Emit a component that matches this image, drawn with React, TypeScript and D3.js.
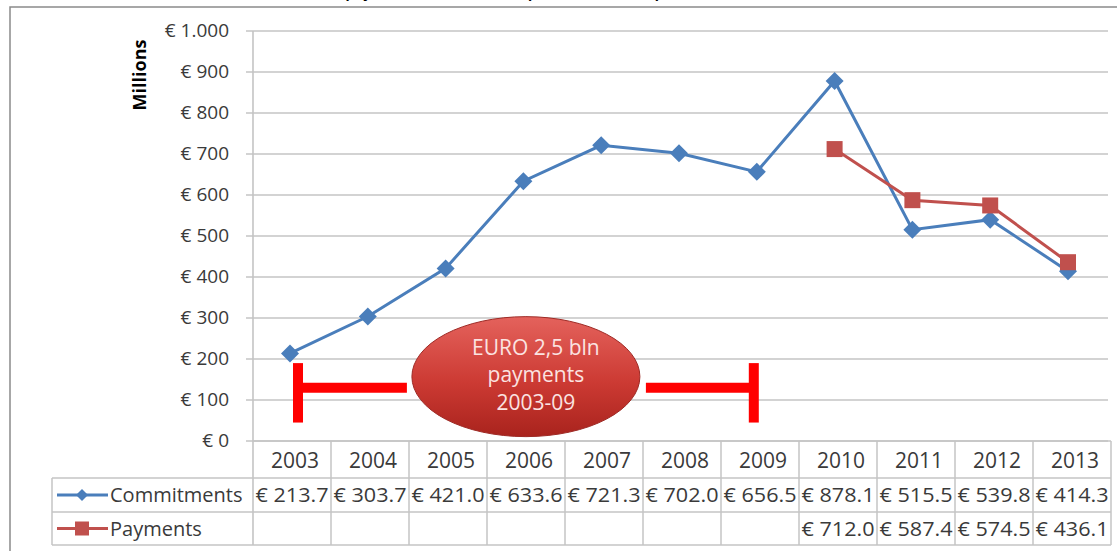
import React from "react";
import * as d3 from "d3";

const years = ["2003", "2004", "2005", "2006", "2007", "2008", "2009", "2010", "2011", "2012", "2013"];
const commitments = [213.7, 303.7, 421.0, 633.6, 721.3, 702.0, 656.5, 878.1, 515.5, 539.8, 414.3];
const payments: (number | null)[] = [null, null, null, null, null, null, null, 712.0, 587.4, 574.5, 436.1];
const yTicks = [0, 100, 200, 300, 400, 500, 600, 700, 800, 900, 1000];
const noteLines = ["EURO 2,5 bln", "payments", "2003-09"];

const W = 1117;
const H = 551;
const FONT = "'Open Sans', 'Noto Sans', sans-serif";
const TXT = "#3a3a3a";
const GRID = "#c4c4c4";
const BLUE = "#4a7ebb";
const RED = "#c0504d";

const tickLabel = (v: number) => (v === 1000 ? "€ 1.000" : `€ ${v}`);
const money = (v: number) => `€ ${v.toFixed(1)}`;

export default function App() {
  const y = d3.scaleLinear().domain([0, 1000]).range([441, 31]);
  const xPt = d3.scalePoint<string>().domain(years).range([290, 1068]);
  const xBand = d3.scaleBand<string>().domain(years).range([253, 1111]);

  const row0 = 441; // year header
  const row1 = 478; // commitments
  const row2 = 512; // payments
  const row3 = 545;
  const legendLeft = 52;

  const line = d3
    .line<[string, number | null]>()
    .defined((d) => d[1] != null)
    .x((d) => xPt(d[0])!)
    .y((d) => y(d[1] as number));

  const comPairs = years.map((yr, i) => [yr, commitments[i]] as [string, number | null]);
  const payPairs = years.map((yr, i) => [yr, payments[i]] as [string, number | null]);

  // annotation bracket 2003-09
  const bx0 = xPt("2003")! + 8;
  const bx1 = xPt("2009")! - 3;
  const bY = y(130);
  const bTop = y(190);
  const bBot = y(45);
  const ecx = (bx0 + bx1) / 2;
  const ecy = y(157);
  const erx = 114;
  const ery = 60;

  const diamond = (cx: number, cy: number, r: number) =>
    `M${cx},${cy - r}L${cx + r},${cy}L${cx},${cy + r}L${cx - r},${cy}Z`;

  return (
    <svg
      width={W}
      height={H}
      style={{ position: "absolute", left: 0, top: 0, background: "#fff" }}
      fontFamily={FONT}
    >
      <defs>
        <linearGradient id="redBall" x1="0" y1="0" x2="0" y2="1">
          <stop offset="0%" stopColor="#e4625c" />
          <stop offset="55%" stopColor="#cc3a33" />
          <stop offset="100%" stopColor="#a9231d" />
        </linearGradient>
      </defs>

      {/* caption, cut off by the top edge as in the source */}
      <text x={-22} y={-2} fontFamily="'Liberation Sans', Arial, sans-serif" fontWeight="bold" fontSize={15} fill="#000">
        Figure 1 – Evolution of ERDF funds contracted and payments related to transport sector in the period 2003-2013
      </text>

      {/* frame */}
      <path d={`M10,${H}V7H${W}`} fill="none" stroke="#8a8a8a" strokeWidth={1.5} />

      {/* gridlines + ticks */}
      {yTicks.map((t) => (
        <g key={t}>
          <line x1={246} x2={1108} y1={y(t)} y2={y(t)} stroke={GRID} strokeWidth={1.6} />
          <text x={229} y={y(t) + 6} textAnchor="end" fontSize={19} fill={TXT}>
            {tickLabel(t)}
          </text>
        </g>
      ))}
      <line x1={253} x2={253} y1={y(1000)} y2={row3} stroke={GRID} strokeWidth={1.6} />

      <text
        transform={`translate(146,75) rotate(-90)`}
        textAnchor="middle"
        fontSize={18}
        fontWeight="bold"
        fill="#000"
      >
        Millions
      </text>

      {/* table */}
      <g stroke={GRID} strokeWidth={1.5}>
        <line x1={253} x2={1111} y1={row0} y2={row0} />
        <line x1={legendLeft} x2={1111} y1={row1} y2={row1} />
        <line x1={legendLeft} x2={1111} y1={row2} y2={row2} />
        <line x1={legendLeft} x2={1111} y1={row3} y2={row3} />
        <line x1={legendLeft} x2={legendLeft} y1={row1} y2={row3} />
        {years.map((yr) => (
          <line key={yr} x1={xBand(yr)! + xBand.bandwidth()} x2={xBand(yr)! + xBand.bandwidth()} y1={row0} y2={row3} />
        ))}
      </g>
      {years.map((yr, i) => {
        const cx = xBand(yr)! + xBand.bandwidth() / 2;
        return (
          <g key={yr} fill={TXT} textAnchor="middle">
            <text x={cx + 3} y={row0 + 27} fontSize={21}>{yr}</text>
            <text x={cx} y={row1 + 24} fontSize={20} textLength={73} lengthAdjust="spacingAndGlyphs">
              {money(commitments[i])}
            </text>
            {payments[i] != null && (
              <text x={cx} y={row2 + 24} fontSize={20} textLength={73} lengthAdjust="spacingAndGlyphs">
                {money(payments[i] as number)}
              </text>
            )}
          </g>
        );
      })}

      {/* legend keys */}
      <line x1={57} x2={108} y1={(row1 + row2) / 2} y2={(row1 + row2) / 2} stroke={BLUE} strokeWidth={3} />
      <path d={diamond(82, (row1 + row2) / 2, 6)} fill={BLUE} />
      <text x={110} y={row1 + 24} fontSize={20} fill={TXT}>Commitments</text>
      <line x1={57} x2={108} y1={(row2 + row3) / 2} y2={(row2 + row3) / 2} stroke={RED} strokeWidth={3} />
      <rect x={75} y={(row2 + row3) / 2 - 7} width={14} height={14} fill={RED} />
      <text x={110} y={row2 + 24} fontSize={20} fill={TXT}>Payments</text>

      {/* series */}
      <path d={line(comPairs)!} fill="none" stroke={BLUE} strokeWidth={3} />
      {comPairs.map(([yr, v]) => (
        <path key={yr} d={diamond(xPt(yr)!, y(v as number), 9)} fill={BLUE} />
      ))}
      <path d={line(payPairs)!} fill="none" stroke={RED} strokeWidth={3} />
      {payPairs
        .filter((d) => d[1] != null)
        .map(([yr, v]) => (
          <rect key={yr} x={xPt(yr)! - 8} y={y(v as number) - 8} width={16} height={16} fill={RED} />
        ))}

      {/* annotation */}
      <g stroke="#ff0000" strokeWidth={10} fill="none">
        <line x1={bx0} x2={ecx - erx - 5} y1={bY} y2={bY} />
        <line x1={ecx + erx + 6} x2={bx1} y1={bY} y2={bY} />
        <line x1={bx0} x2={bx0} y1={bTop} y2={bBot} />
        <line x1={bx1} x2={bx1} y1={bTop} y2={bBot} />
      </g>
      <ellipse cx={ecx} cy={ecy} rx={erx} ry={ery} fill="url(#redBall)" stroke="#9e2a25" strokeWidth={1} />
      {noteLines.map((s, i) => (
        <text key={s} x={ecx + 10} y={ecy - 22 + i * 27.5} textAnchor="middle" fontSize={21} fill="#fbe3e1">
          {s}
        </text>
      ))}
    </svg>
  );
}
